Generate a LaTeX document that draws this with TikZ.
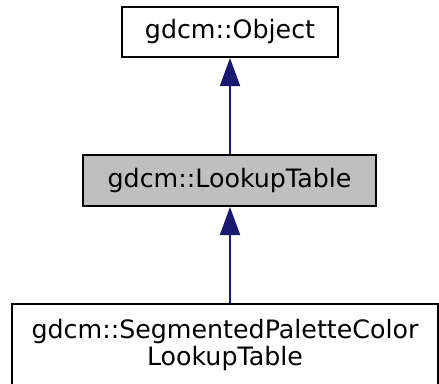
\documentclass[tikz,border=0pt]{standalone}
\usepackage{fontspec}
\setmainfont{DejaVu Sans}
\usetikzlibrary{arrows.meta, positioning}
\definecolor{edgeblue}{HTML}{191970}
\tikzset{
  cls/.style={draw=black, line width=2pt, fill=white, inner sep=0pt, align=center,
    font=\fontsize{25.3}{27}\selectfont},
  curcls/.style={cls, fill=black!25},
  inherit/.style={draw=edgeblue, line width=2pt,
    {Triangle[length=28pt, width=20pt, fill=edgeblue]}-}
}
\begin{document}
\begin{tikzpicture}[x=1pt, y=-1pt]
    \useasboundingbox (0,0) rectangle (439,383);

    % class boxes
    \node[cls, minimum width=216pt, minimum height=50pt] (object) at (230,32) {gdcm::Object};
    \node[curcls, minimum width=293pt, minimum height=51pt] (lut) at (229.5,180.5) {gdcm::LookupTable};
    \node[cls, minimum width=426pt, minimum height=82pt] (seglut) at (225,345) {gdcm::SegmentedPaletteColor\\LookupTable};

    % inheritance
    \draw[inherit] (object.south) -- (object.south |- lut.north);
    \draw[inherit] (object.south |- lut.south) -- (object.south |- seglut.north);
\end{tikzpicture}
\end{document}
